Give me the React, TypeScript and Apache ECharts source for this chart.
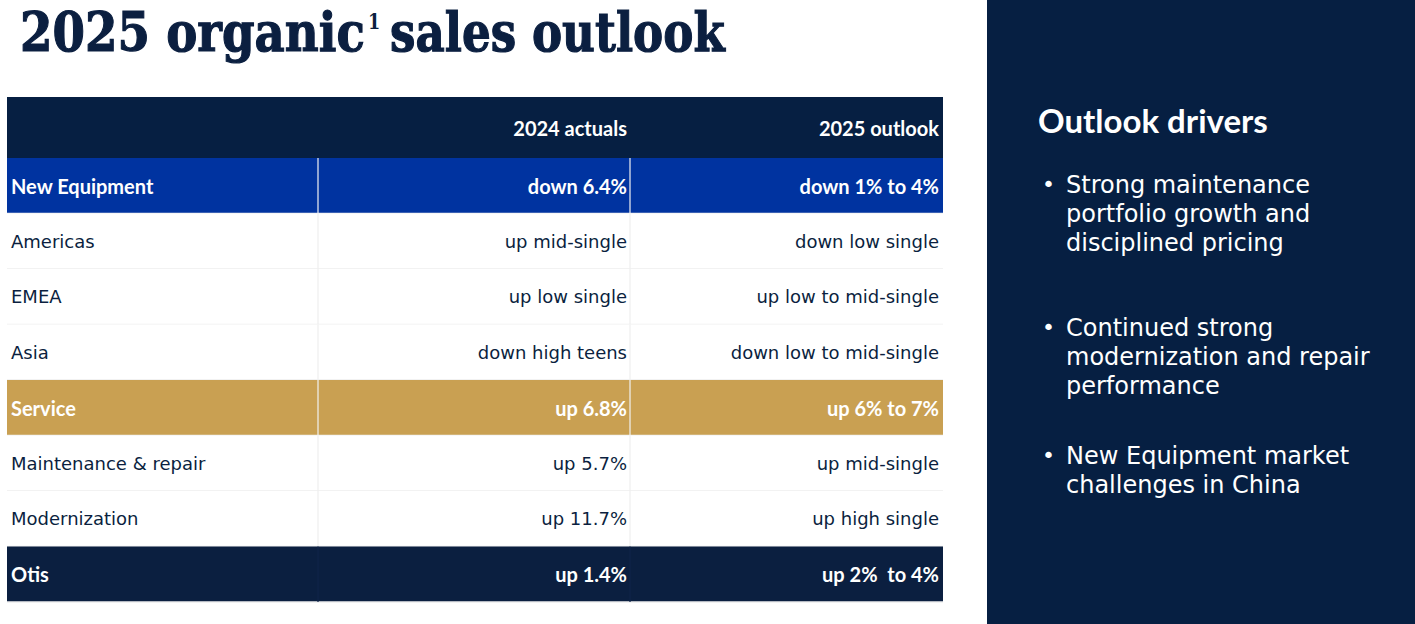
import React, { useEffect, useRef } from "react";
import * as echarts from "echarts";

const titleMain = "2025 organic";
const titleSup = "1";
const titleRest = "sales outlook";
const columnHeaders = ["", "2024 actuals", "2025 outlook"];
const rowLabels = ["New Equipment", "Americas", "EMEA", "Asia", "Service", "Maintenance & repair", "Modernization", "Otis"];
const actuals2024 = ["down 6.4%", "up mid-single", "up low single", "down high teens", "up 6.8%", "up 5.7%", "up 11.7%", "up 1.4%"];
const outlook2025 = ["down 1% to 4%", "down low single", "up low to mid-single", "down low to mid-single", "up 6% to 7%", "up mid-single", "up high single", "up 2%  to 4%"];
const rowKinds = ["blue", "plain", "plain", "plain", "gold", "plain", "plain", "total"];
const panelTitle = "Outlook drivers";
const drivers = [
  ["Strong maintenance", "portfolio growth and", "disciplined pricing"],
  ["Continued strong", "modernization and repair", "performance"],
  ["New Equipment market", "challenges in China"],
];

const NAVY = "#061f42";
const TEXT = "#0b1f40";
const FILL: Record<string, string> = { blue: "#0033a0", gold: "#c9a052", total: "#0b1f40", plain: "#ffffff" };
const REG_FONT = "'DejaVu Sans', sans-serif";
const BOLD_FONT = "Lato, 'DejaVu Sans', sans-serif";
const SERIF = "'DejaVu Serif', serif";

function measure(text: string, font: string) {
  const ctx = document.createElement("canvas").getContext("2d")!;
  ctx.font = font;
  return ctx.measureText(text).width;
}

export default function App() {
  const ref = useRef<HTMLDivElement>(null);
  useEffect(() => {
    document.body.style.margin = "0";
    const chart = echarts.init(ref.current!, null, { renderer: "svg" });
    const g: any[] = [];
    // right panel
    g.push({ type: "rect", shape: { x: 987, y: 0, width: 428, height: 624 }, style: { fill: NAVY } });

    // title (condensed heavy serif)
    const tFont = `bold 54px ${SERIF}`;
    const sA = 345 / measure(titleMain, tFont);
    const sB = 335 / measure(titleRest, tFont);
    const tStyle = { font: tFont, fill: TEXT, stroke: TEXT, lineWidth: 1.2, textVerticalAlign: "middle" };
    g.push({ type: "text", x: 20, y: 32, scaleX: sA, style: { ...tStyle, text: titleMain } });
    g.push({ type: "text", x: 368, y: 21, scaleX: 0.8, style: { text: titleSup, font: `bold 22px ${SERIF}`, fill: TEXT, textVerticalAlign: "middle" } });
    g.push({ type: "text", x: 390, y: 32, scaleX: sB, style: { ...tStyle, text: titleRest } });

    const tx = 7, tw = 936, c1 = 318, c2 = 630;
    const headTop = 97, headH = 61, rowH = 55.5;
    g.push({ type: "rect", shape: { x: tx, y: headTop, width: tw, height: headH }, style: { fill: NAVY } });
    const colRight = [0, 627, 939];
    columnHeaders.forEach((h, i) => {
      if (!h) return;
      g.push({ type: "text", x: colRight[i], y: headTop + headH / 2, style: { text: h, font: `bold 20px ${BOLD_FONT}`, fill: "#ffffff", textAlign: "right", textVerticalAlign: "middle" } });
    });
    rowLabels.forEach((lab, r) => {
      const y = headTop + headH + r * rowH;
      const kind = rowKinds[r];
      const plain = kind === "plain";
      g.push({ type: "rect", shape: { x: tx, y, width: tw, height: rowH }, style: { fill: FILL[kind] } });
      g.push({ type: "line", shape: { x1: tx, y1: y + rowH, x2: tx + tw, y2: y + rowH }, style: { stroke: "#eeeeee", lineWidth: 1.5 } });
      [c1, c2].forEach((cx) => {
        g.push({ type: "line", shape: { x1: cx, y1: y, x2: cx, y2: y + rowH }, style: { stroke: plain ? "#eeeeee" : kind === "total" ? "#102448" : "#f2f2f2", lineWidth: 1.2 } });
      });
      const font = plain ? `18px ${REG_FONT}` : `bold 20px ${BOLD_FONT}`;
      const fill = plain ? TEXT : "#ffffff";
      const cy = y + rowH / 2;
      g.push({ type: "text", x: 11, y: cy, style: { text: lab, font, fill, textVerticalAlign: "middle" } });
      g.push({ type: "text", x: colRight[1], y: cy, style: { text: actuals2024[r], font, fill, textAlign: "right", textVerticalAlign: "middle" } });
      g.push({ type: "text", x: colRight[2], y: cy, style: { text: outlook2025[r], font, fill, textAlign: "right", textVerticalAlign: "middle" } });
    });

    // panel
    g.push({ type: "text", x: 1038, y: 120, style: { text: panelTitle, font: `bold 33px ${BOLD_FONT}`, fill: "#ffffff", textVerticalAlign: "middle" } });
    const starts = [185, 328, 456];
    drivers.forEach((lines, i) => {
      g.push({ type: "text", x: 1042, y: starts[i] - 1, style: { text: "•", font: `22px ${REG_FONT}`, fill: "#ffffff", textVerticalAlign: "middle" } });
      lines.forEach((ln, j) => {
        g.push({ type: "text", x: 1066, y: starts[i] + j * 29, style: { text: ln, font: `24px ${REG_FONT}`, fill: "#ffffff", textVerticalAlign: "middle" } });
      });
    });

    chart.setOption({ animation: false, graphic: { elements: g } });
    return () => chart.dispose();
  }, []);
  return <div ref={ref} style={{ width: 1415, height: 624, background: "#ffffff" }} />;
}
